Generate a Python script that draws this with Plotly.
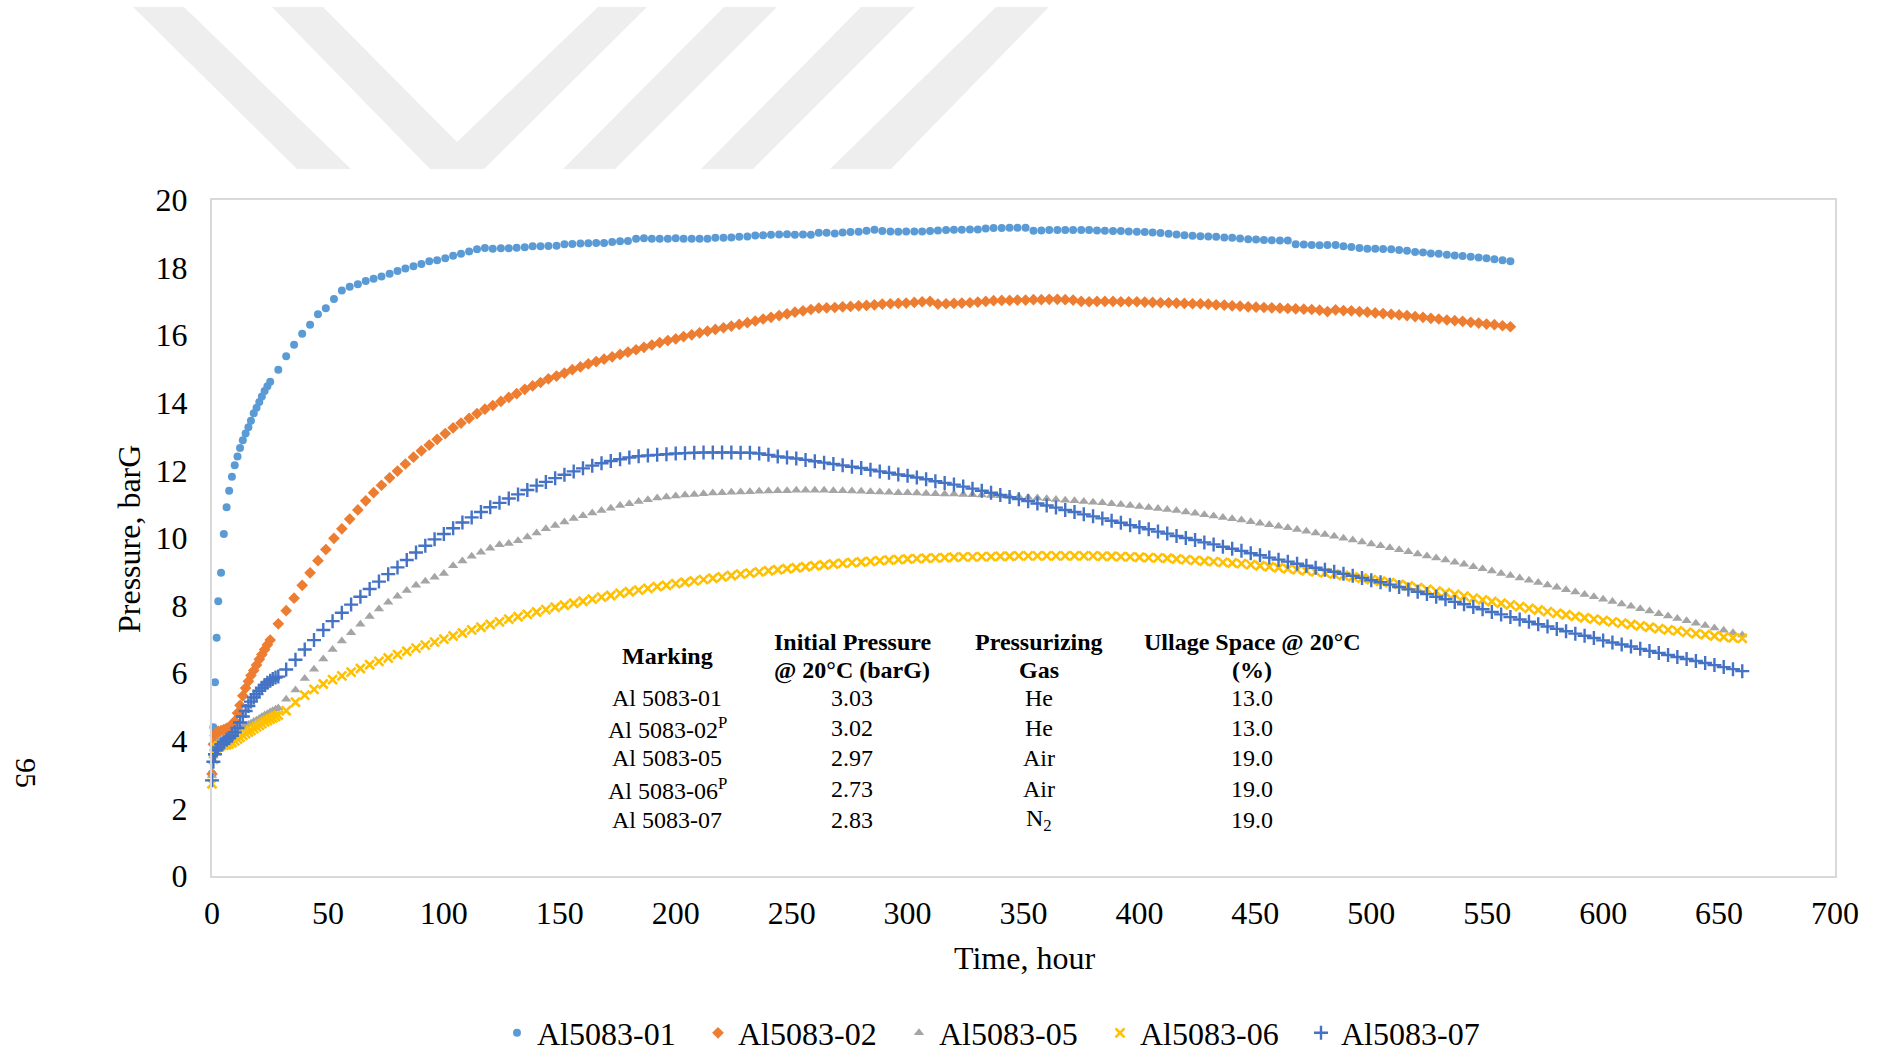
import plotly.graph_objects as go

# ---------------- data (hours, barG) ----------------
# time stamps for Al5083-01 / Al5083-02
T_A_DENSE = [0, 0.6, 1.3, 2.0, 2.7, 3.9, 5.1, 6.3, 7.4, 8.6, 9.8, 11.0, 12.1, 13.3,
             14.5, 15.7, 16.8, 18.0, 19.2, 20.4, 21.5, 22.7, 23.9, 25.1]
T_A_SPARSE = [28.6,
              32.0, 35.4, 38.9, 42.3, 45.7, 49.1, 52.6,
              56.0, 59.4, 62.9, 66.3, 69.7, 73.1, 76.6,
              80.0, 83.4, 86.9, 90.3, 93.7, 97.1, 100.6,
              104.0, 107.4, 110.9, 114.3, 117.7, 121.1, 124.6,
              128.0, 131.4, 134.9, 138.3, 141.7, 145.1, 148.6,
              152.0, 155.4, 158.9, 162.3, 165.7, 169.1, 172.6,
              176.0, 179.4, 182.9, 186.3, 189.7, 193.1, 196.6,
              200.0, 203.4, 206.9, 210.3, 213.7, 217.1, 220.6,
              224.0, 227.4, 230.9, 234.3, 237.7, 241.1, 244.6,
              248.0, 251.4, 254.9, 258.3, 261.7, 265.1, 268.6,
              272.0, 275.4, 278.9, 282.3, 285.7, 289.1, 292.6,
              296.0, 299.4, 302.9, 306.3, 309.7, 313.1, 316.6,
              320.0, 323.4, 326.9, 330.3, 333.7, 337.1, 340.6,
              344.0, 347.4, 350.9, 354.3, 357.7, 361.1, 364.6,
              368.0, 371.4, 374.9, 378.3, 381.7, 385.1, 388.6,
              392.0, 395.4, 398.9, 402.3, 405.7, 409.1, 412.6,
              416.0, 419.4, 422.9, 426.3, 429.7, 433.1, 436.6,
              440.0, 443.4, 446.9, 450.3, 453.7, 457.1, 460.6,
              464.0, 467.4, 470.9, 474.3, 477.7, 481.1, 484.6,
              488.0, 491.4, 494.9, 498.3, 501.7, 505.1, 508.6,
              512.0, 515.4, 518.9, 522.3, 525.7, 529.1, 532.6,
              536.0, 539.4, 542.9, 546.3, 549.7, 553.1, 556.6,
              560.0]

# time stamps for Al5083-05 / -06 / -07
T_B_DENSE = [0, 0.6, 1.3, 2.0, 2.7, 3.9, 5.1, 6.3, 7.4, 8.6, 9.8, 11.0, 12.1, 13.3,
             14.5, 15.7, 16.8, 18.0, 19.2, 20.4, 21.5, 22.7, 23.9, 25.1, 26.2, 27.4, 28.6]
T_B_SPARSE = [32, 36, 40, 44, 48, 52,
              56, 60, 64, 68, 72, 76,
              80, 84, 88, 92, 96, 100,
              104, 108, 112, 116, 120, 124,
              128, 132, 136, 140, 144, 148,
              152, 156, 160, 164, 168, 172,
              176, 180, 184, 188, 192, 196,
              200, 204, 208, 212, 216, 220,
              224, 228, 232, 236, 240, 244,
              248, 252, 256, 260, 264, 268,
              272, 276, 280, 284, 288, 292,
              296, 300, 304, 308, 312, 316,
              320, 324, 328, 332, 336, 340,
              344, 348, 352, 356, 360, 364,
              368, 372, 376, 380, 384, 388,
              392, 396, 400, 404, 408, 412,
              416, 420, 424, 428, 432, 436,
              440, 444, 448, 452, 456, 460,
              464, 468, 472, 476, 480, 484,
              488, 492, 496, 500, 504, 508,
              512, 516, 520, 524, 528, 532,
              536, 540, 544, 548, 552, 556,
              560, 564, 568, 572, 576, 580,
              584, 588, 592, 596, 600, 604,
              608, 612, 616, 620, 624, 628,
              632, 636, 640, 644, 648, 652,
              656, 660]

P01_DENSE = [3.03, 4.40, 5.73, 7.05, 8.13, 8.97, 10.12, 10.91, 11.40, 11.81, 12.15, 12.41,
             12.66, 12.89, 13.09, 13.28, 13.47, 13.69, 13.85, 14.02, 14.19, 14.35, 14.49, 14.62]
P01_SPARSE = [14.98,
              15.38, 15.72, 16.04, 16.31, 16.62, 16.80, 17.07,
              17.32, 17.43, 17.51, 17.60, 17.67, 17.74, 17.82,
              17.90, 17.97, 18.04, 18.11, 18.19, 18.22, 18.28,
              18.35, 18.41, 18.48, 18.54, 18.58, 18.56, 18.57,
              18.57, 18.59, 18.60, 18.63, 18.63, 18.64, 18.65,
              18.69, 18.70, 18.71, 18.72, 18.73, 18.73, 18.76,
              18.78, 18.79, 18.85, 18.87, 18.85, 18.85, 18.85,
              18.87, 18.85, 18.85, 18.85, 18.85, 18.88, 18.88,
              18.89, 18.91, 18.92, 18.95, 18.96, 18.97, 18.98,
              18.99, 18.97, 18.98, 18.97, 19.03, 19.03, 19.01,
              19.04, 19.05, 19.06, 19.09, 19.12, 19.08, 19.07,
              19.06, 19.07, 19.07, 19.07, 19.08, 19.10, 19.11,
              19.12, 19.12, 19.13, 19.13, 19.16, 19.17, 19.17,
              19.18, 19.18, 19.18, 19.09, 19.10, 19.11, 19.11,
              19.11, 19.11, 19.11, 19.11, 19.10, 19.09, 19.08,
              19.08, 19.07, 19.06, 19.05, 19.04, 19.02, 19.00,
              18.98, 18.96, 18.94, 18.93, 18.92, 18.91, 18.89,
              18.88, 18.86, 18.84, 18.83, 18.82, 18.81, 18.80,
              18.80, 18.69, 18.68, 18.67, 18.66, 18.67, 18.67,
              18.63, 18.61, 18.58, 18.56, 18.56, 18.55, 18.54,
              18.52, 18.50, 18.46, 18.45, 18.42, 18.41, 18.38,
              18.36, 18.34, 18.32, 18.30, 18.28, 18.25, 18.22,
              18.19]

P02_DENSE = [3.02, 3.90, 4.15, 4.25, 4.28, 4.30, 4.33, 4.37, 4.41, 4.47, 4.58, 4.82,
             5.05, 5.33, 5.56, 5.76, 5.93, 6.08, 6.24, 6.41, 6.55, 6.70, 6.84, 6.98]
P02_SPARSE = [7.46,
              7.85, 8.22, 8.60, 8.97, 9.33, 9.66, 9.99,
              10.27, 10.56, 10.83, 11.10, 11.34, 11.56, 11.78,
              11.98, 12.19, 12.39, 12.58, 12.75, 12.92, 13.09,
              13.26, 13.40, 13.54, 13.68, 13.81, 13.92, 14.04,
              14.16, 14.27, 14.40, 14.50, 14.60, 14.71, 14.79,
              14.88, 14.98, 15.06, 15.15, 15.22, 15.29, 15.36,
              15.43, 15.50, 15.57, 15.64, 15.71, 15.78, 15.84,
              15.89, 15.96, 16.01, 16.07, 16.12, 16.17, 16.22,
              16.27, 16.32, 16.37, 16.42, 16.48, 16.53, 16.58,
              16.63, 16.68, 16.72, 16.76, 16.80, 16.81, 16.82,
              16.84, 16.85, 16.87, 16.88, 16.90, 16.92, 16.93,
              16.94, 16.95, 16.97, 16.99, 17.00, 16.92, 16.93,
              16.94, 16.95, 16.96, 16.98, 17.00, 17.02, 17.03,
              17.03, 17.04, 17.04, 17.05, 17.05, 17.06, 17.06,
              17.05, 17.04, 17.00, 16.99, 17.00, 17.00, 17.00,
              16.99, 16.99, 16.99, 16.98, 16.97, 16.96, 16.96,
              16.95, 16.94, 16.93, 16.93, 16.92, 16.90, 16.89,
              16.87, 16.86, 16.84, 16.83, 16.82, 16.81, 16.80,
              16.79, 16.78, 16.77, 16.76, 16.74, 16.70, 16.75,
              16.73, 16.72, 16.70, 16.68, 16.66, 16.64, 16.62,
              16.60, 16.58, 16.55, 16.53, 16.50, 16.48, 16.45,
              16.43, 16.41, 16.38, 16.36, 16.33, 16.31, 16.28,
              16.25]

P05_DENSE = [2.97, 3.55, 3.80, 3.92, 3.98, 4.03, 4.07, 4.11, 4.15, 4.19, 4.24, 4.29, 4.34,
             4.39, 4.43, 4.48, 4.52, 4.57, 4.61, 4.66, 4.71, 4.76, 4.80, 4.85, 4.89, 4.93, 4.97]
P05_SPARSE = [5.23, 5.50, 5.84, 6.12, 6.42, 6.70,
              6.95, 7.20, 7.45, 7.68, 7.90, 8.10,
              8.28, 8.45, 8.60, 8.72, 8.84, 8.95,
              9.18, 9.32, 9.46, 9.58, 9.70, 9.80,
              9.84, 9.92, 10.03, 10.15, 10.27, 10.37,
              10.47, 10.58, 10.66, 10.74, 10.81, 10.88,
              10.96, 11.01, 11.08, 11.13, 11.18, 11.21,
              11.24, 11.27, 11.29, 11.31, 11.33, 11.34,
              11.35, 11.36, 11.37, 11.38, 11.39, 11.40,
              11.40, 11.41, 11.41, 11.41, 11.41, 11.40,
              11.40, 11.39, 11.38, 11.37, 11.36, 11.35,
              11.34, 11.34, 11.33, 11.32, 11.31, 11.30,
              11.30, 11.29, 11.28, 11.27, 11.26, 11.25,
              11.23, 11.22, 11.20, 11.18, 11.16, 11.14,
              11.12, 11.10, 11.08, 11.06, 11.04, 11.01,
              10.99, 10.96, 10.93, 10.90, 10.87, 10.84,
              10.81, 10.77, 10.73, 10.69, 10.65, 10.61,
              10.57, 10.53, 10.48, 10.44, 10.39, 10.35,
              10.30, 10.25, 10.20, 10.15, 10.10, 10.05,
              9.99, 9.94, 9.88, 9.82, 9.77, 9.71,
              9.65, 9.59, 9.53, 9.47, 9.41, 9.35,
              9.28, 9.22, 9.15, 9.09, 9.02, 8.95,
              8.89, 8.82, 8.75, 8.68, 8.61, 8.54,
              8.47, 8.40, 8.33, 8.26, 8.19, 8.12,
              8.05, 7.98, 7.91, 7.84, 7.76, 7.69,
              7.62, 7.55, 7.48, 7.41, 7.34, 7.27,
              7.20, 7.13]

P06_DENSE = [2.73, 3.45, 3.70, 3.80, 3.84, 3.86, 3.87, 3.88, 3.91, 3.95, 4.00, 4.05, 4.10,
             4.16, 4.21, 4.26, 4.31, 4.36, 4.41, 4.46, 4.51, 4.56, 4.60, 4.64, 4.68, 4.72, 4.76]
P06_SPARSE = [4.89, 5.14, 5.35, 5.52, 5.68, 5.81,
              5.92, 6.03, 6.14, 6.25, 6.35, 6.45,
              6.55, 6.65, 6.74, 6.83, 6.92, 7.01,
              7.10, 7.19, 7.28, 7.36, 7.44, 7.52,
              7.60, 7.67, 7.74, 7.81, 7.88, 7.95,
              8.01, 8.07, 8.13, 8.19, 8.25, 8.30,
              8.36, 8.41, 8.46, 8.51, 8.56, 8.60,
              8.65, 8.69, 8.73, 8.77, 8.81, 8.85,
              8.89, 8.93, 8.96, 9.00, 9.03, 9.06,
              9.09, 9.12, 9.15, 9.18, 9.20, 9.23,
              9.25, 9.27, 9.29, 9.31, 9.33, 9.35,
              9.36, 9.38, 9.39, 9.40, 9.41, 9.42,
              9.43, 9.44, 9.44, 9.45, 9.45, 9.46,
              9.46, 9.47, 9.47, 9.47, 9.47, 9.47,
              9.47, 9.47, 9.47, 9.47, 9.46, 9.46,
              9.45, 9.44, 9.43, 9.42, 9.41, 9.40,
              9.38, 9.36, 9.34, 9.32, 9.30, 9.28,
              9.26, 9.24, 9.21, 9.18, 9.15, 9.12,
              9.09, 9.06, 9.03, 9.00, 8.97, 8.93,
              8.89, 8.85, 8.81, 8.77, 8.72, 8.68,
              8.63, 8.58, 8.53, 8.48, 8.43, 8.38,
              8.33, 8.28, 8.22, 8.17, 8.12, 8.07,
              8.02, 7.97, 7.92, 7.87, 7.82, 7.77,
              7.73, 7.68, 7.64, 7.60, 7.56, 7.52,
              7.48, 7.44, 7.40, 7.36, 7.32, 7.28,
              7.25, 7.21, 7.17, 7.14, 7.10, 7.07,
              7.05, 7.03]

P07_DENSE = [2.83, 3.38, 3.60, 3.72, 3.80, 3.89, 3.96, 4.03, 4.08, 4.15, 4.25, 4.38, 4.54,
             4.72, 4.88, 5.03, 5.16, 5.28, 5.38, 5.48, 5.57, 5.65, 5.72, 5.78, 5.83, 5.87, 5.90]
P07_SPARSE = [6.11, 6.40, 6.70, 6.98, 7.28, 7.54,
              7.79, 8.03, 8.26, 8.49, 8.71, 8.93,
              9.13, 9.35, 9.57, 9.77, 9.96, 10.12,
              10.29, 10.46, 10.61, 10.77, 10.91, 11.04,
              11.17, 11.29, 11.42, 11.55, 11.66, 11.77,
              11.87, 11.97, 12.06, 12.14, 12.21, 12.28,
              12.33, 12.38, 12.42, 12.44, 12.46, 12.48,
              12.50, 12.51, 12.52, 12.53, 12.53, 12.53,
              12.53, 12.52, 12.52, 12.50, 12.46, 12.41,
              12.38, 12.35, 12.31, 12.27, 12.23, 12.19,
              12.15, 12.11, 12.07, 12.02, 11.97, 11.93,
              11.88, 11.84, 11.79, 11.74, 11.68, 11.63,
              11.58, 11.52, 11.46, 11.40, 11.34, 11.27,
              11.21, 11.15, 11.09, 11.02, 10.96, 10.90,
              10.83, 10.77, 10.70, 10.64, 10.58, 10.51,
              10.45, 10.38, 10.32, 10.26, 10.19, 10.13,
              10.06, 10.00, 9.94, 9.87, 9.81, 9.74,
              9.68, 9.62, 9.55, 9.49, 9.42, 9.36,
              9.30, 9.24, 9.18, 9.12, 9.06, 9.00,
              8.94, 8.88, 8.82, 8.75, 8.69, 8.62,
              8.55, 8.48, 8.41, 8.34, 8.26, 8.19,
              8.11, 8.04, 7.96, 7.89, 7.81, 7.74,
              7.66, 7.59, 7.52, 7.45, 7.38, 7.31,
              7.24, 7.17, 7.11, 7.04, 6.97, 6.91,
              6.85, 6.79, 6.72, 6.66, 6.60, 6.54,
              6.48, 6.42, 6.36, 6.30, 6.24, 6.18,
              6.12, 6.06]

SERIES_NAMES = ["Al5083-01", "Al5083-02", "Al5083-05", "Al5083-06", "Al5083-07"]
X_TICKS = [0, 50, 100, 150, 200, 250, 300, 350, 400, 450, 500, 550, 600, 650, 700]
Y_TICKS = [0, 2, 4, 6, 8, 10, 12, 14, 16, 18, 20]

TABLE_HEADER = [["Marking"], ["Initial Pressure", "@ 20°C (barG)"],
                ["Pressurizing", "Gas"], ["Ullage Space @ 20°C", "(%)"]]
TABLE_MARKING = ["Al 5083-01", "Al 5083-02<sup>P</sup>", "Al 5083-05",
                 "Al 5083-06<sup>P</sup>", "Al 5083-07"]
TABLE_INIT_P = ["3.03", "3.02", "2.97", "2.73", "2.83"]
TABLE_GAS = ["He", "He", "Air", "Air", "N<sub>2</sub>"]
TABLE_ULLAGE = ["13.0", "13.0", "19.0", "19.0", "19.0"]

T_A = T_A_DENSE + T_A_SPARSE
T_B = T_B_DENSE + T_B_SPARSE
P01 = P01_DENSE + P01_SPARSE
P02 = P02_DENSE + P02_SPARSE
P05 = P05_DENSE + P05_SPARSE
P06 = P06_DENSE + P06_SPARSE
P07 = P07_DENSE + P07_SPARSE
for arr in (P01, P02):
    assert len(arr) == len(T_A), (len(arr), len(T_A))
for arr in (P05, P06, P07):
    assert len(arr) == len(T_B), (len(arr), len(T_B))

# ---------------- layout geometry ----------------
W, H = 1879, 1053
L, R, T, B = 212, 1835, 200, 876
PW, PH = R - L, B - T
FONT = "Liberation Serif, Times New Roman, serif"


def px(x):
    return (x - L) / PW


def py(y):
    return (B - y) / PH


fig = go.Figure()
styles = [
    dict(symbol="circle", size=8, color="#5B9BD5"),
    dict(symbol="diamond", size=9, color="#ED7D31"),
    dict(symbol="triangle-up", size=9, color="#A5A5A5"),
    dict(symbol="x-thin", size=9, color="#FFC000", line=dict(width=2.6, color="#FFC000")),
    dict(symbol="cross-thin", size=10, color="#4472C4", line=dict(width=2.4, color="#4472C4")),
]
xs = [T_A, T_A, T_B, T_B, T_B]
ys = [P01, P02, P05, P06, P07]
for name, xv, yv, st in zip(SERIES_NAMES, xs, ys, styles):
    fig.add_trace(go.Scatter(x=xv, y=yv, mode="markers", name=name,
                             marker=st, cliponaxis=False))

axis_common = dict(showline=True, mirror=True, linecolor="#d9d9d9", linewidth=2,
                   showgrid=False, zeroline=False, ticks="",
                   tickfont=dict(family=FONT, size=32, color="black"))
fig.update_xaxes(range=[0, 700], tickmode="array", tickvals=X_TICKS,
                 ticktext=[str(v) for v in X_TICKS], ticklabelstandoff=8, **axis_common)
fig.update_yaxes(range=[0, 20], tickmode="array", tickvals=Y_TICKS,
                 ticktext=[str(v) for v in Y_TICKS], ticklabelstandoff=16, **axis_common)

annotations = []
# axis titles
annotations.append(dict(text="Time, hour", x=px(1024), y=py(958), xref="paper", yref="paper",
                        showarrow=False, font=dict(family=FONT, size=32, color="black"),
                        xanchor="center", yanchor="middle"))
annotations.append(dict(text="Pressure, barG", x=px(129), y=py(539), xref="paper", yref="paper",
                        showarrow=False, textangle=-90, font=dict(family=FONT, size=32, color="black"),
                        xanchor="center", yanchor="middle"))
# page number
annotations.append(dict(text="95", x=px(27), y=py(773), xref="paper", yref="paper",
                        showarrow=False, textangle=90, font=dict(family=FONT, size=30, color="black"),
                        xanchor="center", yanchor="middle"))

# table
col_x = [667, 852, 1039, 1252]
for cx, lines in zip(col_x, TABLE_HEADER):
    if len(lines) == 1:
        ypos = [656]
    else:
        ypos = [642, 670]
    for ln, yy in zip(lines, ypos):
        annotations.append(dict(text="<b>" + ln + "</b>", x=px(cx), y=py(yy), xref="paper",
                                yref="paper", showarrow=False,
                                font=dict(family=FONT, size=24, color="black"),
                                xanchor="center", yanchor="middle"))
row_y = [698, 728, 758, 789, 820]
for col, cx in zip([TABLE_MARKING, TABLE_INIT_P, TABLE_GAS, TABLE_ULLAGE], col_x):
    for txt, yy in zip(col, row_y):
        annotations.append(dict(text=txt, x=px(cx), y=py(yy), xref="paper", yref="paper",
                                showarrow=False, font=dict(family=FONT, size=24, color="black"),
                                xanchor="center", yanchor="middle"))

# watermark (light chevron strokes at the top of the page)
wm_polys = [
    [(133, 7), (184, 7), (351, 169), (297, 169)],
    [(272, 7), (323, 7), (457, 142), (598, 7), (647, 7), (484, 169), (430, 169)],
    [(724, 7), (777, 7), (615, 169), (563, 169)],
    [(861, 7), (915, 7), (753, 169), (701, 169)],
    [(996, 7), (1049, 7), (891, 169), (830, 169)],
]
shapes = []
for poly in wm_polys:
    path = "M " + " L ".join(f"{px(a):.5f},{py(b):.5f}" for a, b in poly) + " Z"
    shapes.append(dict(type="path", path=path, xref="paper", yref="paper",
                       fillcolor="#eeeeee", line=dict(width=0), layer="below"))

fig.update_layout(
    width=W, height=H,
    margin=dict(l=L, r=W - R, t=T, b=H - B, autoexpand=False),
    paper_bgcolor="white", plot_bgcolor="white",
    font=dict(family=FONT, size=32, color="black"),
    showlegend=True,
    legend=dict(orientation="h", x=px(497), y=py(1033), xanchor="left", yanchor="middle",
                font=dict(family=FONT, size=32, color="black"),
                entrywidth=156, entrywidthmode="pixels", bgcolor="rgba(0,0,0,0)"),
    annotations=annotations,
    shapes=shapes,
)

fig.write_html("out.html", config={"displayModeBar": False},
               post_script="document.body.style.margin='0';document.body.style.overflow='hidden';")
